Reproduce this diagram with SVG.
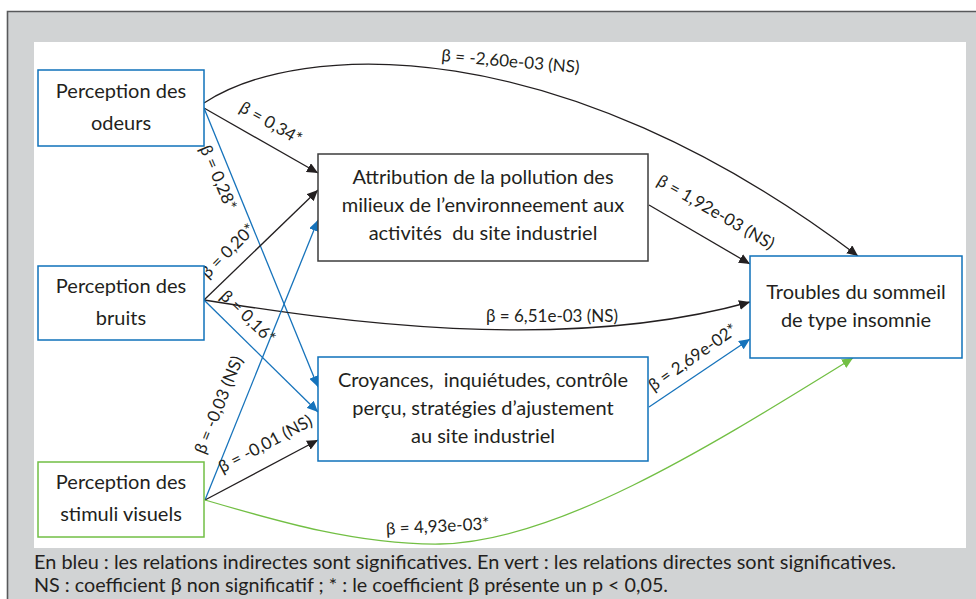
<svg xmlns="http://www.w3.org/2000/svg" width="976" height="599" viewBox="0 0 976 599">
<style>
.nt{font-family:Lato,"Liberation Sans",sans-serif;font-size:20px;fill:#231f20;text-anchor:middle;white-space:pre}
.lb{font-family:Lato,"Liberation Sans",sans-serif;font-size:17px;fill:#231f20;text-anchor:middle}
.cap{font-family:Lato,"Liberation Sans",sans-serif;font-size:18.5px;fill:#231f20}
.bx{fill:#fff;stroke-width:1.5}
.blue{stroke:#0f72ba}
.green{stroke:#72bf44}
.grey{stroke:#3d3d3d}
.ck{fill:none;stroke:#231f20;stroke-width:1.3}
.cb{fill:none;stroke:#1673bb;stroke-width:1.3}
.cg{fill:none;stroke:#72bf44;stroke-width:1.3}
</style>
<defs>
<marker id="ak" markerUnits="userSpaceOnUse" markerWidth="12" markerHeight="10" refX="11" refY="5" orient="auto"><path d="M0,0 L11,5 L0,10 Z" fill="#231f20"/></marker>
<marker id="ab" markerUnits="userSpaceOnUse" markerWidth="12" markerHeight="10" refX="11" refY="5" orient="auto"><path d="M0,0 L11,5 L0,10 Z" fill="#1673bb"/></marker>
<marker id="ag" markerUnits="userSpaceOnUse" markerWidth="12" markerHeight="10" refX="11" refY="5" orient="auto"><path d="M0,0 L11,5 L0,10 Z" fill="#72bf44"/></marker>
</defs>
<rect x="0" y="0" width="976" height="599" fill="#fff"/>
<rect x="7" y="11" width="975" height="600" fill="#d1d3d4"/>
<path d="M7.5,611 L7.5,11.5 L976,11.5" fill="none" stroke="#58595b" stroke-width="1.6"/>
<rect x="34" y="42" width="932" height="506" fill="#fff"/>

<g id="connectors">
<path class="ck" d="M204,103 C300,40 560,30 858,256" marker-end="url(#ak)"/>
<line class="ck" x1="204" y1="108" x2="318" y2="173" marker-end="url(#ak)"/>
<line class="cb" x1="204" y1="108" x2="318" y2="387" marker-end="url(#ab)"/>
<line class="ck" x1="204" y1="300" x2="318" y2="190" marker-end="url(#ak)"/>
<path class="ck" d="M204,300 C330,320 560,355 750,302" marker-end="url(#ak)"/>
<line class="cb" x1="204" y1="300" x2="318" y2="412" marker-end="url(#ab)"/>
<line class="cb" x1="205" y1="500" x2="318" y2="220" marker-end="url(#ab)"/>
<line class="ck" x1="205" y1="500" x2="318" y2="440" marker-end="url(#ak)"/>
<path class="cg" d="M205,500 C280,522 360,545 440,544 C560,542 720,440 853,358" marker-end="url(#ag)"/>
<line class="ck" x1="649" y1="205" x2="750" y2="264" marker-end="url(#ak)"/>
<line class="cb" x1="649" y1="407" x2="750" y2="339" marker-end="url(#ab)"/>

<text class="lb" transform="translate(510,67) rotate(5)">β = -2,60e-03 (NS)</text>
<text class="lb" transform="translate(268,128) rotate(30)">β = 0,34*</text>
<text class="lb" transform="translate(213,180) rotate(67)">β = 0,28*</text>
<text class="lb" transform="translate(232,255) rotate(-45)">β = 0,20*</text>
<text class="lb" transform="translate(244,321) rotate(44)">β = 0,16*</text>
<text class="lb" x="552" y="322">β = 6,51e-03 (NS)</text>
<text class="lb" transform="translate(224,407) rotate(-68)">β = -0,03 (NS)</text>
<text class="lb" transform="translate(268,449) rotate(-28)">β = -0,01 (NS)</text>
<text class="lb" transform="translate(438,532) rotate(-3)">β = 4,93e-03*</text>
<text class="lb" transform="translate(713,217) rotate(30)">β = 1,92e-03 (NS)</text>
<text class="lb" transform="translate(696,362) rotate(-35)">β = 2,69e-02*</text>
</g>

<g id="n_odeurs">
<rect class="bx blue" x="38" y="70" width="166" height="76"/>
<text class="nt" x="121" y="98">Perception des</text>
<text class="nt" x="121" y="130">odeurs</text>
</g>
<g id="n_bruits">
<rect class="bx blue" x="38" y="266" width="166" height="74"/>
<text class="nt" x="121" y="293">Perception des</text>
<text class="nt" x="121" y="325">bruits</text>
</g>
<g id="n_visuels">
<rect class="bx green" x="38" y="462" width="166" height="75"/>
<text class="nt" x="121" y="489">Perception des</text>
<text class="nt" x="121" y="521">stimuli visuels</text>
</g>
<g id="n_attribution">
<rect class="bx grey" x="318" y="154" width="330" height="107"/>
<text class="nt" x="483" y="184">Attribution de la pollution des</text>
<text class="nt" x="483" y="212">milieux de l’environneement aux</text>
<text class="nt" x="483" y="240">activités  du site industriel</text>
</g>
<g id="n_croyances">
<rect class="bx blue" x="318" y="357" width="330" height="104"/>
<text class="nt" x="483" y="387">Croyances,  inquiétudes, contrôle</text>
<text class="nt" x="483" y="415">perçu, stratégies d’ajustement</text>
<text class="nt" x="483" y="443">au site industriel</text>
</g>
<g id="n_troubles">
<rect class="bx blue" x="750" y="256" width="212" height="102"/>
<text class="nt" x="856" y="299">Troubles du sommeil</text>
<text class="nt" x="856" y="327">de type insomnie</text>
</g>

<text class="cap" x="34" y="569" textLength="862" lengthAdjust="spacingAndGlyphs">En bleu : les relations indirectes sont significatives. En vert : les relations directes sont significatives.</text>
<text class="cap" x="34" y="592" textLength="634" lengthAdjust="spacingAndGlyphs">NS : coefficient β non significatif ; * : le coefficient β présente un p &lt; 0,05.</text>
</svg>
